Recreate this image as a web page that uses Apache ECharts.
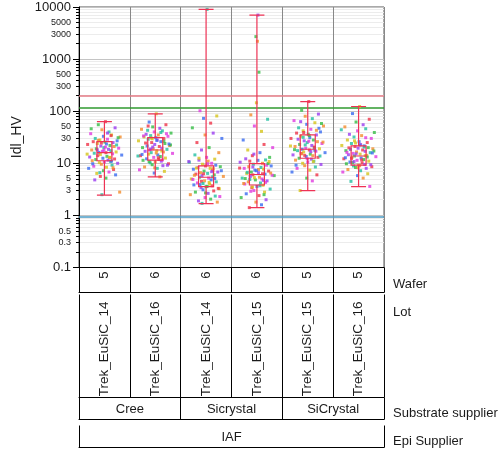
<!DOCTYPE html>
<html>
<head>
<meta charset="utf-8">
<script src="https://cdn.jsdelivr.net/npm/echarts@6/dist/echarts.min.js"></script>
<style>
  html, body { margin: 0; padding: 0; background: #fff; }
  #chart { width: 503px; height: 451px; }
</style>
</head>
<body>
<div id="chart"></div>
<script>
// grouping levels (one column per lot/wafer)
const wafers = ['5', '6', '6', '6', '5', '5']
const lots = ['Trek_EuSiC_14', 'Trek_EuSiC_16', 'Trek_EuSiC_14', 'Trek_EuSiC_15', 'Trek_EuSiC_15', 'Trek_EuSiC_16']
const substrates = ['Cree', 'Sicrystal', 'SiCrystal']
const epiSuppliers = ['IAF']
const groupNames = ['Cree/14/5', 'Cree/16/6', 'Sicrystal/14/6', 'Sicrystal/15/6', 'SiCrystal/15/5', 'SiCrystal/16/5']

// y axis ticks (log)
const yMajorTicks = [0.1, 1, 10, 100, 1000, 10000]
const yMinorTicks = [0.2, 0.3, 0.4, 0.5, 0.6, 0.7, 0.8, 0.9, 2, 3, 4, 5, 6, 7, 8, 9,
  20, 30, 40, 50, 60, 70, 80, 90, 200, 300, 400, 500, 600, 700, 800, 900,
  2000, 3000, 4000, 5000, 6000, 7000, 8000, 9000]
const yLabels = [0.1, 0.3, 0.5, 1, 3, 5, 10, 30, 50, 100, 300, 500, 1000, 3000, 5000, 10000]

// reference lines
const limitRed = 195
const limitGreen = 118
const limitBlue = 0.94

// box plot summaries per group
const boxMin = [2.46, 5.5, 1.68, 1.41, 3.0, 3.56]
const boxQ1 = [11.2, 11.5, 3.56, 3.83, 12.5, 9.2]
const boxMed = [16, 18, 5.4, 6.1, 18.6, 13.8]
const boxQ3 = [26, 31, 8.9, 9.9, 35, 21.6]
const boxMax = [63, 89, 9000, 7000, 153, 123]

// Idl_HV readings per group
const g1 = [63, 55, 48, 44, 40, 37, 35, 33, 32, 30, 29, 28, 27, 26, 25.5, 25, 24, 23.5, 23, 22, 21.5, 21, 20, 19.5, 19, 18.5, 18, 17.5, 17, 16.5,
  16.2, 16, 15.6, 15.2, 14.8, 14.4, 14, 13.6, 13.2, 12.8, 12.5, 12.1, 11.8, 11.5, 11.2, 10.9, 10.6, 10.3, 10, 9.6, 9.2, 8.8, 8.4, 8, 7.6,
  7.2, 6.8, 6.4, 6, 5.6, 5.2, 4.8, 2.8, 2.5, 34, 46, 38, 27.5, 22.5, 17.8, 13, 9.8, 8.2, 6.6, 20.5, 15, 11, 24.5, 31, 18.2]
const g2 = [89, 62, 55, 50, 47, 45, 42, 40, 38, 36, 35, 34, 33, 32, 31, 30, 29, 28, 27, 26, 25, 24, 23, 22, 21.5, 21, 20, 19.5, 19, 18.5,
  18, 17.5, 17, 16.5, 16, 15.5, 15, 14.5, 14, 13.5, 13, 12.6, 12.2, 11.8, 11.4, 11, 10.6, 10.2, 9.8, 9.4, 9, 8.5, 8, 7.5, 7,
  6.5, 5.5, 43, 37, 30.5, 27.5, 24.5, 22.5, 20.5, 17.2, 14.8, 12.8, 10.8, 9.2, 8.2, 39, 33.5, 26.5, 18.8, 15.8, 13.8, 11.6, 29.5, 23.5, 52]
const g3 = [9000, 102, 81, 73, 59, 48, 38, 35, 30, 25, 20, 18, 16, 14.5, 13, 12, 11.5, 11, 10.5, 10, 9.6, 9.2, 8.9, 8.6, 8.3, 8, 7.7, 7.4, 7.1, 6.8,
  6.6, 6.4, 6.2, 6, 5.8, 5.6, 5.4, 5.2, 5, 4.8, 4.6, 4.4, 4.2, 4, 3.85, 3.7, 3.56, 3.4, 3.25, 3.1, 2.95, 2.8, 2.65, 2.5, 2.35,
  2.2, 2.05, 1.9, 1.8, 1.7, 9.8, 8.1, 7.2, 6.3, 5.5, 4.9, 4.3, 3.9, 3.3, 2.7, 6.9, 5.9, 5.1, 4.5, 3.6, 10.8, 7.9, 4.1, 2.3, 12.5]
const g4 = [7000, 85, 70, 52, 41, 28, 23, 2700, 20, 18, 16, 14, 13, 12.2, 2200, 11.6, 11, 560, 10.5, 10, 9.6, 9.2, 145, 8.9, 8.6, 8.3, 8, 7.7, 7.4, 7.1,
  6.8, 6.6, 6.4, 6.2, 6, 5.8, 5.6, 5.4, 5.2, 5, 4.8, 4.6, 4.4, 4.2, 4, 3.8, 3.6, 3.4, 3.2, 3, 2.8, 2.6, 2.4, 2.2, 2,
  1.8, 1.6, 1.41, 9.9, 8.5, 7.6, 6.7, 5.9, 5.3, 4.7, 4.1, 3.7, 2.9, 10.8, 7.2, 6.3, 5.1, 4.3, 3.5, 11.4, 8.1, 2.5, 15, 6.5, 4.9]
const g5 = [153, 104, 88, 80, 72, 66, 60, 56, 52, 48, 45, 42, 40, 38, 36, 35, 33, 31, 30, 28, 27, 26, 25, 24, 23, 22, 21, 20, 19.5, 19,
  18.6, 18, 17.5, 17, 16.5, 16, 15.5, 15, 14.5, 14, 13.5, 13, 12.5, 12, 11.5, 11, 10.5, 10, 9.5, 9, 8.5, 8, 7.4, 6.8, 6,
  5.2, 4.6, 3, 47, 39, 34, 29, 25.5, 22.5, 20.5, 18.3, 16.8, 15.2, 13.8, 12.2, 10.8, 9.2, 43, 31.5, 26.5, 21.5, 17.8, 14.2, 58, 63]
const g6 = [123, 90, 70, 62, 55, 50, 46, 42, 39, 36, 34, 32, 30, 28, 26, 25, 24, 23, 22, 21.6, 21, 20, 19.5, 19, 18.5, 18, 17.5, 17, 16.5, 16,
  15.5, 15, 14.6, 14.2, 13.8, 13.4, 13, 12.6, 12.2, 11.8, 11.4, 11, 10.6, 10.2, 9.8, 9.5, 9.2, 8.9, 8.6, 8.3, 8, 7.6, 7.2, 6.8, 6.3,
  5.8, 5.2, 4.5, 3.6, 27, 22.5, 19.8, 17.2, 15.2, 14, 12.8, 11.6, 10.4, 9.4, 8.2, 20.5, 16.2, 13.2, 10.8, 9.0, 44, 31, 24.5, 15.8, 12.4]
const groupValues = [g1, g2, g3, g4, g5, g6]

// horizontal jitter (fraction of a column) used to spread the points
const jitter = [0.02, -0.12, 0.21, -0.05, 0.09, -0.27, 0.14, -0.02, 0.31, -0.18, 0.06, -0.09, 0.25, -0.22, 0.01, 0.17, -0.14, 0.04, -0.33, 0.11,
  -0.07, 0.19, -0.01, 0.28, -0.16, 0.08, -0.25, 0.13, -0.04, 0.23, -0.11, 0.03, -0.20, 0.16, -0.08, 0.34, -0.13, 0.05, -0.29, 0.10,
  -0.03, 0.20, -0.17, 0.07, -0.24, 0.12, 0.00, -0.10, 0.26, -0.06, 0.15, -0.21, 0.04, -0.31, 0.18, -0.02, 0.09, -0.15, 0.22, -0.08,
  0.03, -0.19, 0.30, -0.05, 0.13, -0.26, 0.06, -0.12, 0.24, -0.01, 0.11, -0.23, 0.17, -0.09, 0.02, -0.34, 0.14, -0.06, 0.27, -0.14,
  0.08, -0.03, 0.19, -0.18, 0.05, -0.11, 0.32, -0.07, 0.12, -0.28]

const pointColors = ['#ef3348', '#f28c2c', '#d6c41a', '#36bd46', '#22bfa0', '#3a6cf0', '#9b3cf0', '#e03ade']
const boxColor = '#ee3355'
const textColor = '#1a1a1a'
const fontFamily = 'Liberation Sans, Arial, sans-serif'

const points = []
groupValues.forEach((vals, g) => {
  vals.forEach((v, i) => {
    points.push([g + 0.5 + jitter[i % jitter.length], v])
  })
})

const chart = echarts.init(document.getElementById('chart'))

function rowAxis (offset, extra) {
  return Object.assign({
    type: 'value',
    position: 'bottom',
    offset: offset,
    min: 0,
    max: 6,
    silent: true,
    splitLine: { show: false },
    axisLine: { show: false, onZero: false, lineStyle: { color: '#000', width: 1 } },
    axisTick: { show: false },
    axisLabel: { show: false },
    nameLocation: 'end',
    nameGap: 9,
    nameTextStyle: { color: textColor, fontSize: 13, fontFamily: fontFamily }
  }, extra)
}

const rowLabel = { show: true, color: textColor, fontSize: 13, fontFamily: fontFamily }
const rowTick = (vals, len) => ({ show: true, customValues: vals, length: len, lineStyle: { color: '#000', width: 1 } })

const option = {
  animation: false,
  textStyle: { fontFamily: fontFamily },
  grid: {
    left: 79,
    right: 119,
    top: 7,
    bottom: 183.5,
    show: true,
    borderColor: '#555',
    borderWidth: 1,
    containLabel: false,
    outerBoundsMode: 'none'
  },
  xAxis: [
    {
      type: 'category',
      data: groupNames,
      position: 'bottom',
      silent: true,
      axisLine: { show: true, onZero: false, lineStyle: { color: '#000', width: 1 } },
      axisTick: { show: false },
      axisLabel: { show: false },
      splitLine: { show: true, interval: 0, lineStyle: { color: '#888', width: 1 } }
    },
    { type: 'value', min: 0, max: 6, show: false },
    // Wafer row
    rowAxis(0, {
      axisTick: rowTick([0, 1, 2, 3, 4, 5, 6], 25),
      axisLabel: Object.assign({}, rowLabel, {
        customValues: [0.5, 1.5, 2.5, 3.5, 4.5, 5.5],
        rotate: 90,
        margin: 4,
        formatter: v => wafers[Math.floor(v)]
      })
    }),
    rowAxis(25, {
      axisLine: { show: true, onZero: false, lineStyle: { color: '#000' } },
      name: 'Wafer',
      nameTextStyle: { color: textColor, fontSize: 13, fontFamily: fontFamily, verticalAlign: 'bottom', padding: [0, 0, 2, 0] }
    }),
    // Lot row
    rowAxis(27, {
      axisTick: rowTick([0, 1, 2, 3, 4, 5, 6], 103),
      axisLabel: Object.assign({}, rowLabel, {
        customValues: [0.5, 1.5, 2.5, 3.5, 4.5, 5.5],
        rotate: 90,
        margin: 7,
        fontSize: 13.5,
        formatter: v => lots[Math.floor(v)]
      }),
      name: 'Lot',
      nameTextStyle: { color: textColor, fontSize: 13, fontFamily: fontFamily, verticalAlign: 'top', padding: [11, 0, 0, 0] }
    }),
    // Substrate supplier row
    rowAxis(130, {
      axisLine: { show: true, onZero: false, lineStyle: { color: '#000' } },
      axisTick: rowTick([0, 2, 4, 6], 22),
      axisLabel: Object.assign({}, rowLabel, {
        customValues: [1, 3, 5],
        margin: 5,
        formatter: v => substrates[Math.floor(v / 2)]
      })
    }),
    rowAxis(152, {
      axisLine: { show: true, onZero: false, lineStyle: { color: '#000' } },
      name: 'Substrate supplier',
      nameTextStyle: { color: textColor, fontSize: 13, fontFamily: fontFamily, verticalAlign: 'bottom', padding: [0, 0, 0, 0] }
    }),
    // Epi Supplier row
    rowAxis(158, {
      axisTick: rowTick([0, 6], 22),
      axisLabel: Object.assign({}, rowLabel, {
        customValues: [3],
        margin: 5,
        formatter: () => epiSuppliers[0]
      })
    }),
    rowAxis(180, {
      axisLine: { show: true, onZero: false, lineStyle: { color: '#000' } },
      name: 'Epi Supplier',
      nameTextStyle: { color: textColor, fontSize: 13, fontFamily: fontFamily, verticalAlign: 'bottom', padding: [0, 0, 0, 0] }
    })
  ],
  yAxis: [
    {
      type: 'log',
      logBase: 10,
      min: 0.1,
      max: 10000,
      position: 'left',
      name: 'Idl_HV',
      nameLocation: 'middle',
      nameGap: 49,
      nameTextStyle: { color: textColor, fontSize: 14, fontFamily: fontFamily },
      axisLine: { show: true, onZero: false, lineStyle: { color: '#000', width: 1 } },
      axisTick: { show: true, customValues: yMajorTicks, length: 6, lineStyle: { color: '#000' } },
      axisLabel: {
        customValues: yLabels,
        margin: 8,
        color: textColor,
        fontFamily: fontFamily,
        formatter: v => {
          const e = Math.log10(v)
          const txt = String(+v.toPrecision(6))
          return Math.abs(e - Math.round(e)) < 1e-6 ? '{big|' + txt + '}' : '{small|' + txt + '}'
        },
        rich: {
          big: { fontSize: 13, color: textColor, fontFamily: fontFamily },
          small: { fontSize: 9, color: textColor, fontFamily: fontFamily }
        }
      },
      splitLine: { show: true, lineStyle: { color: '#c4c4c4', width: 1 } }
    },
    {
      type: 'log',
      logBase: 10,
      min: 0.1,
      max: 10000,
      position: 'left',
      axisLine: { show: false },
      axisTick: { show: true, customValues: yMinorTicks, length: 3, lineStyle: { color: '#000' } },
      axisLabel: { show: false },
      splitLine: { show: true, lineStyle: { color: '#ececec', width: 1 } }
    }
  ],
  series: [
    {
      type: 'scatter',
      xAxisIndex: 1,
      yAxisIndex: 0,
      symbol: 'rect',
      symbolSize: 3,
      silent: true,
      z: 3,
      data: points,
      itemStyle: { color: p => pointColors[(p.dataIndex * 3 + Math.floor(p.dataIndex / 8)) % pointColors.length] },
      markLine: {
        symbol: 'none',
        silent: true,
        z: 2,
        label: { show: false },
        data: [
          { yAxis: limitRed, lineStyle: { color: '#e47a84', width: 1.5, type: 'solid' } },
          { yAxis: limitGreen, lineStyle: { color: '#2f9a2f', width: 1.5, type: 'solid' } },
          { yAxis: limitBlue, lineStyle: { color: '#4a9bc4', width: 1.5, type: 'solid' } }
        ]
      }
    },
    {
      type: 'boxplot',
      xAxisIndex: 0,
      yAxisIndex: 0,
      silent: true,
      z: 5,
      boxWidth: [15, 15],
      itemStyle: { color: 'rgba(0,0,0,0)', borderColor: boxColor, borderWidth: 1.2 },
      data: groupNames.map((g, i) => [boxMin[i], boxQ1[i], boxMed[i], boxQ3[i], boxMax[i]])
    }
  ]
}

chart.setOption(option)
window.addEventListener('resize', () => chart.resize())
</script>
</body>
</html>
